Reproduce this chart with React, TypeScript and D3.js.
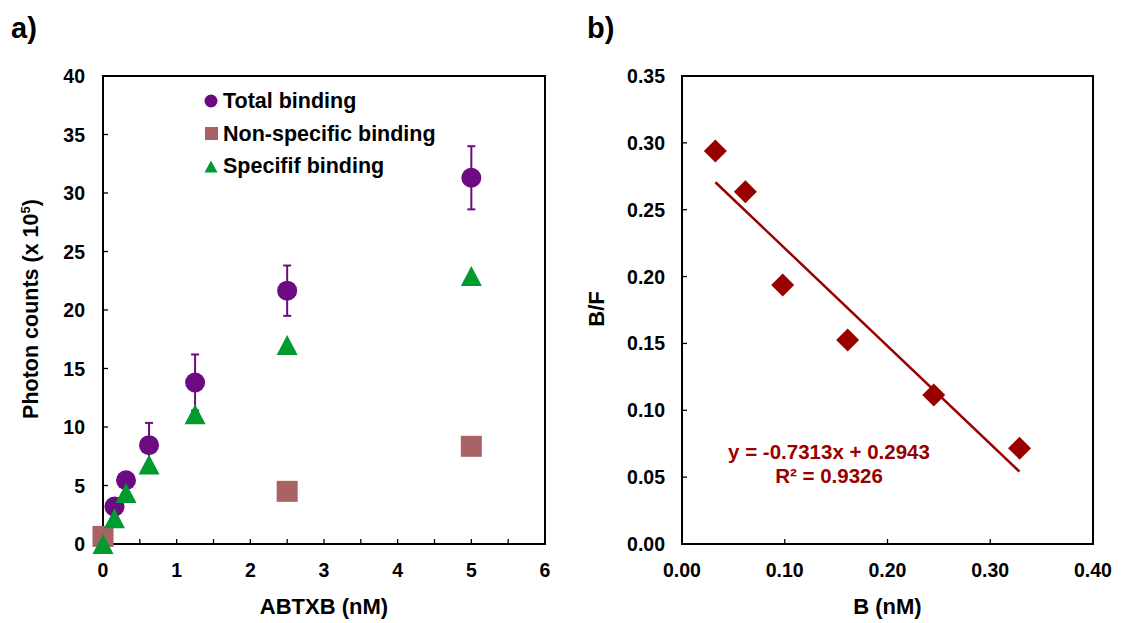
import React from "react";
import * as d3 from "d3";

const concA = [0.156, 0.3125, 0.625, 1.25, 2.5, 5];
const totalBinding = [3.2, 5.45, 8.45, 13.8, 21.65, 31.3];
const totalErr = [0, 0, 1.9, 2.4, 2.15, 2.7];
const nonSpecX = [0, 2.5, 5];
const nonSpecY = [0.65, 4.5, 8.35];
const specX = [0, 0.156, 0.3125, 0.625, 1.25, 2.5, 5];
const specY = [0.0, 2.2, 4.35, 6.8, 11.1, 17.0, 22.9];

const bX = [0.0325, 0.0617, 0.098, 0.1612, 0.245, 0.3285];
const bfY = [0.294, 0.2634, 0.1937, 0.1526, 0.1115, 0.0717];
const slope = -0.7313;
const intercept = 0.2943;

const xTicksA = [0, 0.5, 1, 1.5, 2, 2.5, 3, 3.5, 4, 4.5, 5, 5.5, 6];
const yTicksA = [0, 5, 10, 15, 20, 25, 30, 35, 40];
const xTicksB = [0, 0.1, 0.2, 0.3, 0.4];
const yTicksB = [0, 0.05, 0.1, 0.15, 0.2, 0.25, 0.3, 0.35];

const legendItems = ["Total binding", "Non-specific binding", "Specifif binding"];

const FONT = "'Liberation Sans', Arial, sans-serif";
const PURPLE = "#6c0a82";
const ROSE = "#a86464";
const GREEN = "#009a2e";
const RED = "#990000";

const A = { left: 103, right: 545, top: 76, bottom: 544 };
const B = { left: 682, right: 1093, top: 76, bottom: 544 };

function tri(cx: number, cy: number, w: number, h: number) {
  return `M${cx},${cy - h / 2}L${cx + w / 2},${cy + h / 2}L${cx - w / 2},${cy + h / 2}Z`;
}
function diamond(cx: number, cy: number, r: number) {
  return `M${cx},${cy - r}L${cx + r},${cy}L${cx},${cy + r}L${cx - r},${cy}Z`;
}

export default function App() {
  const xa = d3.scaleLinear().domain([0, 6]).range([A.left, A.right]);
  const ya = d3.scaleLinear().domain([0, 40]).range([A.bottom, A.top]);
  const xb = d3.scaleLinear().domain([0, 0.4]).range([B.left, B.right]);
  const yb = d3.scaleLinear().domain([0, 0.35]).range([B.bottom, B.top]);

  const fitX0 = d3.min(bX)!;
  const fitX1 = d3.max(bX)!;
  const line = d3.line<number>().x((d) => xb(d)).y((d) => yb(slope * d + intercept));

  return (
    <svg
      width={1121}
      height={623}
      style={{ position: "absolute", left: 0, top: 0, background: "#fff" }}
      fontFamily={FONT}
      fontWeight="bold"
    >
      <rect width={1121} height={623} fill="#fff" />
      {/* Panel labels */}
      <text x={11} y={38} fontSize={29}>a)</text>
      <text x={587} y={38} fontSize={29}>b)</text>

      {/* ===== Panel a ===== */}
      <g>
        {xTicksA.map((t) => (
          <line key={"xt" + t} x1={xa(t)} x2={xa(t)} y1={A.bottom} y2={A.bottom - 5} stroke="#000" strokeWidth={1.3} />
        ))}
        {xTicksA.filter((t) => Number.isInteger(t)).map((t) => (
          <text key={"xl" + t} x={xa(t)} y={577} fontSize={19.5} textAnchor="middle">{t}</text>
        ))}
        {yTicksA.map((t) => (
          <line key={"yt" + t} x1={A.left} x2={A.left + 5} y1={ya(t)} y2={ya(t)} stroke="#000" strokeWidth={1.3} />
        ))}
        {yTicksA.map((t) => (
          <text key={"yl" + t} x={85} y={ya(t) + 7} fontSize={19.5} textAnchor="end">{t}</text>
        ))}
        <rect x={A.left} y={A.top} width={A.right - A.left} height={A.bottom - A.top} fill="none" stroke="#000" strokeWidth={2} />

        {/* error bars */}
        {concA.map((x, i) =>
          totalErr[i] > 0 ? (
            <g key={"eb" + i} stroke={PURPLE} strokeWidth={2}>
              <line x1={xa(x)} x2={xa(x)} y1={ya(totalBinding[i] + totalErr[i])} y2={ya(totalBinding[i] - totalErr[i])} />
              <line x1={xa(x) - 4} x2={xa(x) + 4} y1={ya(totalBinding[i] + totalErr[i])} y2={ya(totalBinding[i] + totalErr[i])} />
              <line x1={xa(x) - 4} x2={xa(x) + 4} y1={ya(totalBinding[i] - totalErr[i])} y2={ya(totalBinding[i] - totalErr[i])} />
            </g>
          ) : null
        )}
        {concA.map((x, i) => (
          <circle key={"tb" + i} cx={xa(x)} cy={ya(totalBinding[i])} r={10} fill={PURPLE} />
        ))}
        {nonSpecX.map((x, i) => (
          <rect key={"ns" + i} x={xa(x) - 10.5} y={ya(nonSpecY[i]) - 10.5} width={21} height={21} fill={ROSE} />
        ))}
        {specX.map((x, i) => (
          <path key={"sp" + i} d={tri(xa(x), ya(specY[i]), 21, 20)} fill={GREEN} />
        ))}

        {/* legend */}
        <circle cx={211} cy={101} r={6.5} fill={PURPLE} />
        <rect x={205} y={127} width={13} height={13} fill={ROSE} />
        <path d={tri(211, 166.5, 13, 12)} fill={GREEN} />
        {legendItems.map((s, i) => (
          <text key={s} x={223} y={108 + i * 32.5} fontSize={21.5}>{s}</text>
        ))}

        <text x={(A.left + A.right) / 2} y={614} fontSize={22} textAnchor="middle">ABTXB (nM)</text>
        <text transform={`translate(38,309) rotate(-90)`} fontSize={21.5} textAnchor="middle">
          Photon counts (x 10<tspan dy={-8} fontSize={13}>5</tspan><tspan dy={8}>)</tspan>
        </text>
      </g>

      {/* ===== Panel b ===== */}
      <g>
        {xTicksB.map((t) => (
          <line key={"bxt" + t} x1={xb(t)} x2={xb(t)} y1={B.bottom} y2={B.bottom - 5} stroke="#000" strokeWidth={1.3} />
        ))}
        {xTicksB.map((t) => (
          <text key={"bxl" + t} x={xb(t)} y={577} fontSize={19.5} textAnchor="middle">{d3.format(".2f")(t)}</text>
        ))}
        {yTicksB.map((t) => (
          <line key={"byt" + t} x1={B.left} x2={B.left + 5} y1={yb(t)} y2={yb(t)} stroke="#000" strokeWidth={1.3} />
        ))}
        {yTicksB.map((t) => (
          <text key={"byl" + t} x={665} y={yb(t) + 7} fontSize={19.5} textAnchor="end">{d3.format(".2f")(t)}</text>
        ))}
        <rect x={B.left} y={B.top} width={B.right - B.left} height={B.bottom - B.top} fill="none" stroke="#000" strokeWidth={2} />

        {bX.map((x, i) => (
          <path key={"d" + i} d={diamond(xb(x), yb(bfY[i]), 11.5)} fill={RED} />
        ))}
        <path d={line([fitX0, fitX1]) || ""} fill="none" stroke={RED} strokeWidth={2.5} />

        <text x={829} y={459} fontSize={20.5} fill={RED} textAnchor="middle">y = -0.7313x + 0.2943</text>
        <text x={829} y={483} fontSize={20.5} fill={RED} textAnchor="middle">R² = 0.9326</text>

        <text x={(B.left + B.right) / 2} y={614} fontSize={22} textAnchor="middle">B (nM)</text>
        <text transform={`translate(604,309) rotate(-90)`} fontSize={22} textAnchor="middle">B/F</text>
      </g>
    </svg>
  );
}
